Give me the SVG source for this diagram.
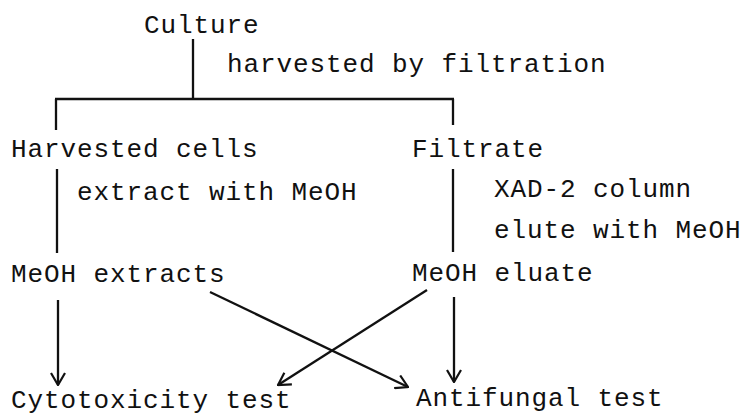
<svg xmlns="http://www.w3.org/2000/svg" width="750" height="415" viewBox="0 0 750 415">
<style>
  text { font-family: "Liberation Mono", "DejaVu Sans Mono", monospace; font-size: 26px; letter-spacing: 0.9px; fill: #111; }
  .ln { stroke: #111; stroke-width: 2.3; fill: none; }
  .ar { stroke: #111; stroke-width: 2.3; fill: none; marker-end: url(#ah); }
</style>
<defs>
  <marker id="ah" viewBox="0 0 14 16" refX="13" refY="8" markerWidth="14" markerHeight="16" markerUnits="userSpaceOnUse" orient="auto">
    <path d="M1,1 L13,8 L1,15" fill="none" stroke="#111" stroke-width="2.2"/>
  </marker>
</defs>
<rect width="750" height="415" fill="#fff"/>
<g id="culture"><text x="144" y="33">Culture</text></g>
<g id="label-filtration"><text x="227" y="72">harvested by filtration</text></g>
<g id="harvested-cells"><text x="11" y="157">Harvested cells</text></g>
<g id="filtrate"><text x="412" y="157">Filtrate</text></g>
<g id="label-extract"><text x="77" y="200">extract with MeOH</text></g>
<g id="label-xad"><text x="494" y="197">XAD-2 column</text><text x="494" y="238">elute with MeOH</text></g>
<g id="meoh-extracts"><text x="11" y="282">MeOH extracts</text></g>
<g id="meoh-eluate"><text x="412" y="281">MeOH eluate</text></g>
<g id="cytotoxicity"><text x="11" y="408">Cytotoxicity test</text></g>
<g id="antifungal"><text x="416" y="406">Antifungal test</text></g>
<g id="connectors">
  <line class="ln" x1="193" y1="39" x2="193" y2="99"/>
  <line class="ln" x1="55" y1="99" x2="454" y2="99"/>
  <line class="ln" x1="56" y1="99" x2="56" y2="130"/>
  <line class="ln" x1="453" y1="99" x2="453" y2="125"/>
  <line class="ln" x1="57" y1="169" x2="57" y2="253"/>
  <line class="ln" x1="453" y1="169" x2="453" y2="252"/>
  <line class="ar" x1="58" y1="300" x2="58" y2="385"/>
  <line class="ar" x1="454" y1="297" x2="454" y2="382"/>
  <line class="ar" x1="210" y1="292" x2="408" y2="387"/>
  <line class="ar" x1="427" y1="290" x2="278" y2="385"/>
</g>
</svg>
